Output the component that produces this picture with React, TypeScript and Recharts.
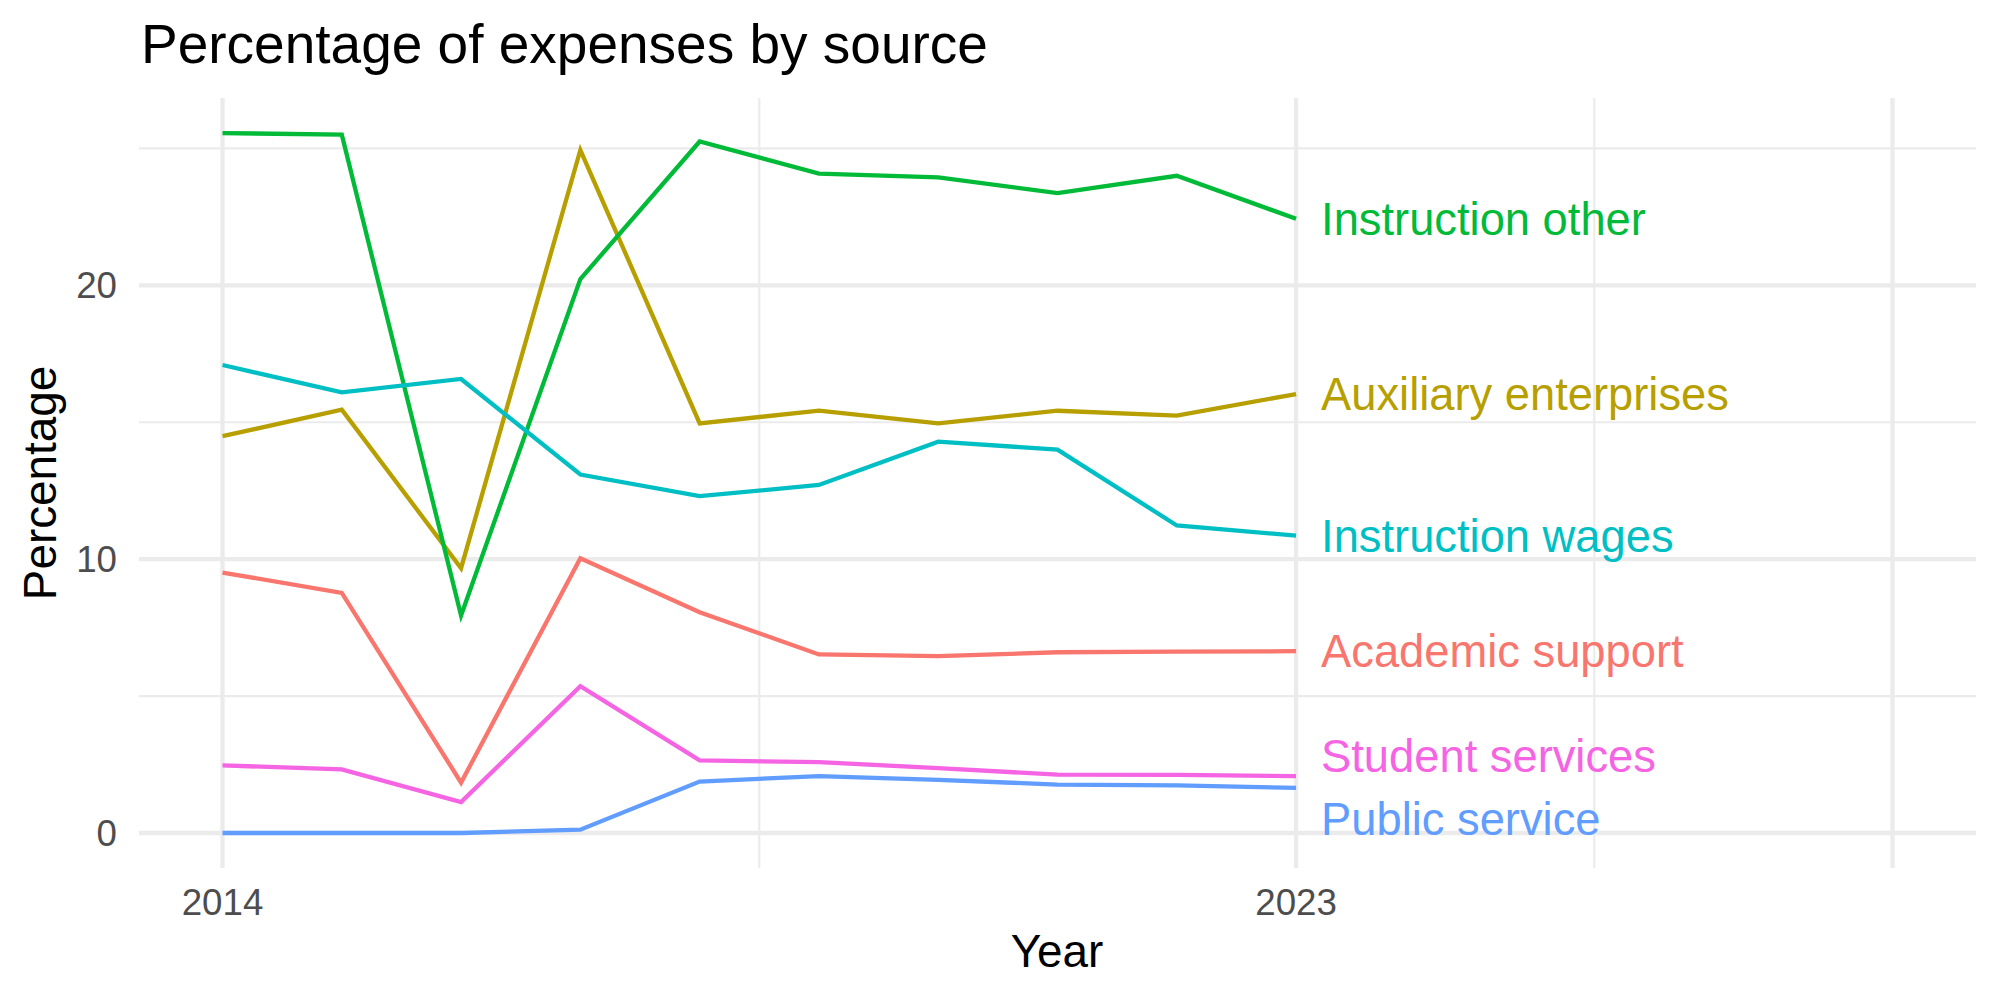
import React from 'react';
import { LineChart, Line, XAxis, YAxis, ReferenceLine, ReferenceDot } from 'recharts';

const years = [2014, 2015, 2016, 2017, 2018, 2019, 2020, 2021, 2022, 2023];

const academicSupport = [9.51, 8.77, 1.84, 10.03, 8.06, 6.52, 6.46, 6.6, 6.62, 6.64];
const auxiliaryEnterprises = [14.49, 15.46, 9.67, 24.94, 14.96, 15.42, 14.96, 15.42, 15.24, 16.03];
const instructionOther = [25.56, 25.5, 7.94, 20.23, 25.25, 24.08, 23.94, 23.37, 24.0, 22.43];
const instructionWages = [17.09, 16.09, 16.58, 13.09, 12.3, 12.71, 14.29, 14.0, 11.23, 10.86];
const publicService = [0, 0, 0, 0.12, 1.88, 2.08, 1.94, 1.77, 1.74, 1.65];
const studentServices = [2.47, 2.32, 1.13, 5.36, 2.65, 2.59, 2.37, 2.13, 2.12, 2.08];

// label heights at the right end (the two low ones are pushed apart so they don't overlap)
const labelY = {
  instructionOther: 22.43,
  auxiliaryEnterprises: 16.03,
  instructionWages: 10.86,
  academicSupport: 6.64,
  studentServices: 2.81,
  publicService: 0.52,
};

const xTicks = [2014, 2023, 2028];
const xMinor = [2018.5, 2025.5];
const yTicks = [0, 10, 20];
const yMinor = [5, 15, 25];

const series = [
  { key: 'academicSupport', name: 'Academic support', color: '#F8766D' },
  { key: 'auxiliaryEnterprises', name: 'Auxiliary enterprises', color: '#B79F00' },
  { key: 'instructionOther', name: 'Instruction other', color: '#00BA38' },
  { key: 'instructionWages', name: 'Instruction wages', color: '#00BFC4' },
  { key: 'publicService', name: 'Public service', color: '#619CFF' },
  { key: 'studentServices', name: 'Student services', color: '#F564E3' },
] as const;

const data = years.map((year, i) => ({
  year,
  academicSupport: academicSupport[i],
  auxiliaryEnterprises: auxiliaryEnterprises[i],
  instructionOther: instructionOther[i],
  instructionWages: instructionWages[i],
  publicService: publicService[i],
  studentServices: studentServices[i],
}));

const FONT = '"Liberation Sans", Arial, Helvetica, sans-serif';
const GRID = '#ebebeb';
const LINE_W = 4.3;

const XTick = (props: any) => {
  const { x, y, payload } = props;
  if (payload.value === 2028) return null;
  return (
    <text x={x} y={y} dy={47} textAnchor="middle" fill="#4d4d4d" fontSize={36.7} fontFamily={FONT}>
      {payload.value}
    </text>
  );
};

const YTick = (props: any) => {
  const { x, y, payload } = props;
  return (
    <text x={x - 22} y={y} dy={13} textAnchor="end" fill="#4d4d4d" fontSize={36.7} fontFamily={FONT}>
      {payload.value}
    </text>
  );
};

export default function App() {
  return (
    <div style={{ position: 'absolute', left: 0, top: 0, width: 2000, height: 1000, background: '#fff' }}>
      <LineChart
        width={2000}
        height={1000}
        data={data}
        margin={{ top: 98, right: 24, bottom: 0, left: 0 }}
      >
        <XAxis
          dataKey="year"
          type="number"
          domain={[2013.3, 2028.7]}
          ticks={xTicks}
          allowDataOverflow
          axisLine={false}
          tickLine={false}
          tickSize={0}
          tickMargin={0}
          height={132}
          tick={<XTick />}
        />
        <YAxis
          type="number"
          domain={[-1.278, 26.84]}
          ticks={yTicks}
          allowDataOverflow
          axisLine={false}
          tickLine={false}
          tickSize={0}
          tickMargin={0}
          width={139}
          tick={<YTick />}
        />
        {yMinor.map((v) => (
          <ReferenceLine key={`ym${v}`} y={v} stroke={GRID} strokeWidth={2.15} />
        ))}
        {xMinor.map((v) => (
          <ReferenceLine key={`xm${v}`} x={v} stroke={GRID} strokeWidth={2.15} />
        ))}
        {yTicks.map((v) => (
          <ReferenceLine key={`y${v}`} y={v} stroke={GRID} strokeWidth={LINE_W} />
        ))}
        {xTicks.map((v) => (
          <ReferenceLine key={`x${v}`} x={v} stroke={GRID} strokeWidth={LINE_W} />
        ))}
        {series.map((s) => (
          <Line
            key={s.key}
            type="linear"
            dataKey={s.key}
            name={s.name}
            stroke={s.color}
            strokeWidth={LINE_W}
            dot={false}
            activeDot={false}
            isAnimationActive={false}
          />
        ))}
        {series.map((s) => (
          <ReferenceDot
            key={`lab-${s.key}`}
            x={years[years.length - 1]}
            y={labelY[s.key]}
            r={0}
            fill="none"
            stroke="none"
            label={{
              value: s.name,
              position: 'right',
              offset: 25,
              fill: s.color,
              fontSize: 45.3,
              fontFamily: FONT,
            }}
          />
        ))}
      </LineChart>
      <svg
        width={2000}
        height={1000}
        style={{ position: 'absolute', left: 0, top: 0, pointerEvents: 'none' }}
        fontFamily={FONT}
      >
        <text x={141} y={63} fontSize={55} fill="#000">
          Percentage of expenses by source
        </text>
        <text x={1057} y={967} fontSize={45.8} fill="#000" textAnchor="middle">
          Year
        </text>
        <text
          x={56}
          y={483}
          fontSize={45.8}
          fill="#000"
          textAnchor="middle"
          transform="rotate(-90, 56, 483)"
        >
          Percentage
        </text>
      </svg>
    </div>
  );
}
